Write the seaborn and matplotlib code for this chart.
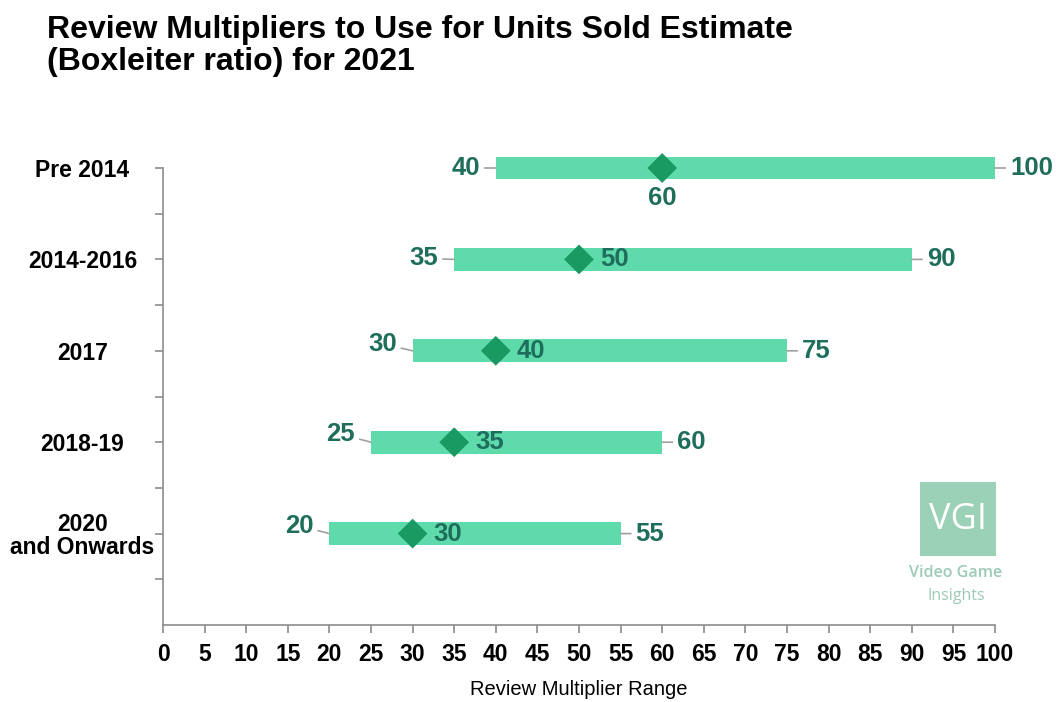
import matplotlib
matplotlib.use("Agg")
import matplotlib.pyplot as plt
from matplotlib.patches import Rectangle
import seaborn as sns
import pandas as pd

# Review multiplier ranges per release period
periods = ["Pre 2014", "2014-2016", "2017", "2018-19", "2020\nand Onwards"]
low_values = [40, 35, 30, 25, 20]
mid_values = [60, 50, 40, 35, 30]
high_values = [100, 90, 75, 60, 55]
x_ticks = list(range(0, 101, 5))

df = pd.DataFrame({"period": periods, "low": low_values,
                   "mid": mid_values, "high": high_values})
df["pos"] = range(len(df))

sns.set_theme(style="white")
plt.rcParams["font.family"] = ["Liberation Sans", "DejaVu Sans"]

BAR = "#5fdbab"
DIAMOND = "#1a9a63"
LABEL = "#1f6e5c"
AXIS = "#8c8c8c"

fig = plt.figure(figsize=(10.56, 7.02), dpi=100)
ax = fig.add_axes([163 / 1056, 1 - 625 / 702, (995 - 163) / 1056, (625 - 168) / 702])

# Range bars (low to high)
ax.barh(df["pos"], df["high"] - df["low"], left=df["low"], height=0.25,
        color=BAR, edgecolor="none", clip_on=False, zorder=2)

# Recommended multiplier markers
sns.scatterplot(data=df, x="mid", y="pos", ax=ax, marker="D", s=230,
                color=DIAMOND, edgecolor="none", zorder=3, clip_on=False,
                legend=False)

ax.set_xlim(0, 100)
ax.set_ylim(5, 0)

# Value labels with short leader lines
VAL_FS = 18.5
start_dy = [0, 1, 7, 8, 8]
for i, row in df.iterrows():
    ax.annotate(str(row["low"]), xy=(row["low"], row["pos"]),
                xytext=(-16, start_dy[i]), textcoords="offset pixels",
                ha="right", va="center", fontsize=VAL_FS, fontweight="bold",
                color=LABEL, annotation_clip=False,
                arrowprops=dict(arrowstyle="-", color="#a0a0a0", lw=1.2,
                                shrinkA=1, shrinkB=0))
    ax.annotate(str(row["high"]), xy=(row["high"], row["pos"]),
                xytext=(15, 0), textcoords="offset pixels",
                ha="left", va="center", fontsize=VAL_FS, fontweight="bold",
                color=LABEL, annotation_clip=False,
                arrowprops=dict(arrowstyle="-", color="#a0a0a0", lw=1.2,
                                shrinkA=1, shrinkB=0))
    if i == 0:
        ax.annotate(str(row["mid"]), xy=(row["mid"], row["pos"]),
                    xytext=(0, -30), textcoords="offset pixels",
                    ha="center", va="center", fontsize=VAL_FS, fontweight="bold",
                    color=LABEL, annotation_clip=False)
    else:
        ax.annotate(str(row["mid"]), xy=(row["mid"], row["pos"]),
                    xytext=(21, 0), textcoords="offset pixels",
                    ha="left", va="center", fontsize=VAL_FS, fontweight="bold",
                    color=LABEL, annotation_clip=False)

# Axes styling
for side in ["top", "right"]:
    ax.spines[side].set_visible(False)
for side in ["left", "bottom"]:
    ax.spines[side].set_color(AXIS)
    ax.spines[side].set_linewidth(1.2)

ax.set_xticks(x_ticks)
ax.set_xticklabels([str(t) for t in x_ticks], fontsize=16.5, fontweight="bold",
                   color="black")
ax.set_yticks([p + h for p in df["pos"] for h in (0, 0.5)], minor=True)
ax.set_yticks(df["pos"])
ax.set_yticklabels(df["period"], fontsize=16.5, fontweight="bold",
                   color="black", ha="center", linespacing=1.0)
for lbl in ax.get_yticklabels()[:4]:
    lbl.set_y(lbl.get_position()[1])
ax.tick_params(axis="x", direction="out", length=6, width=1.2, color=AXIS,
               pad=7, bottom=True)
ax.tick_params(axis="y", which="both", direction="out", length=6, width=1.2,
               color=AXIS, left=True, pad=52)
ax.set_xlabel("Review Multiplier Range", fontsize=14.5, color="black",
              labelpad=10)
ax.set_ylabel("")

# Title
fig.text(47 / 1056, 1 - 15 / 702,
         "Review Multipliers to Use for Units Sold Estimate\n(Boxleiter ratio) for 2021",
         ha="left", va="top", fontsize=23, fontweight="bold", color="black",
         linespacing=1.1)

# Logo block
fig.patches.append(Rectangle((920 / 1056, 1 - 556 / 702), 76 / 1056, 74 / 702,
                             transform=fig.transFigure, facecolor="#9bd1b6",
                             edgecolor="none"))
fig.text(958 / 1056, 1 - 520 / 702, "VGI", ha="center", va="center",
         fontsize=26, color="white", family=["Open Sans", "DejaVu Sans"])
fig.text(956 / 1056, 1 - 573 / 702, "Video Game", ha="center", va="center",
         fontsize=11.5, color="#9ccab5", fontweight="semibold",
         family=["Open Sans", "DejaVu Sans"])
fig.text(956 / 1056, 1 - 596 / 702, "Insights", ha="center", va="center",
         fontsize=11.5, color="#9ccab5", family=["Open Sans", "DejaVu Sans"])

fig.savefig("out.png", dpi=100)
